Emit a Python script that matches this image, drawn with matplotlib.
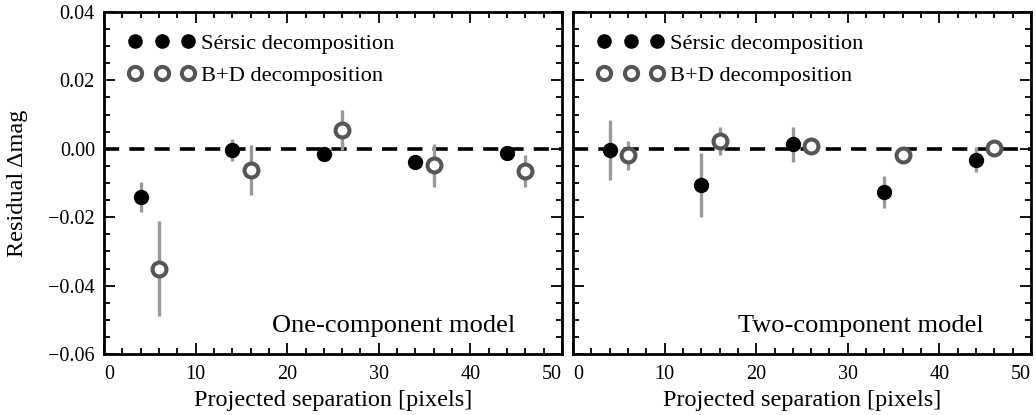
import matplotlib
matplotlib.use("Agg")
from matplotlib import pyplot as plt
from matplotlib.ticker import MultipleLocator

plt.rcParams['font.family'] = ['Liberation Serif', 'DejaVu Serif']
plt.rcParams['mathtext.fontset'] = 'stix'

# separations (pixels)
sep_sersic = [4, 14, 24, 34, 44]
sep_bd = [6, 16, 26, 36, 46]

# one-component model
one_sersic = [-0.0141, -0.0004, -0.0014, -0.0039, -0.0011]
one_sersic_err = [0.0044, 0.0032, 0.0012, 0.0010, 0.0010]
one_bd = [-0.0350, -0.0063, 0.0054, -0.0048, -0.0065]
one_bd_err = [0.0138, 0.0073, 0.0058, 0.0063, 0.0046]

# two-component model
two_sersic = [-0.0004, -0.0105, 0.0013, -0.0127, -0.0032]
two_sersic_err = [0.0088, 0.0093, 0.0051, 0.0047, 0.0037]
two_bd = [-0.0019, 0.0023, 0.0008, -0.0019, 0.0001]
two_bd_err = [0.0043, 0.0042, 0.0010, 0.0010, 0.0010]

xticks = [0, 10, 20, 30, 40, 50]

panels = [
    ("One-component model", one_sersic, one_sersic_err, one_bd, one_bd_err),
    ("Two-component model", two_sersic, two_sersic_err, two_bd, two_bd_err),
]

fig = plt.figure(figsize=(10.36, 4.15), dpi=100)
ax1 = fig.add_axes([104 / 1036, 61 / 415, 458 / 1036, 342 / 415])
ax2 = fig.add_axes([573 / 1036, 61 / 415, 458 / 1036, 342 / 415])

for ax, (title, ys, ys_err, yb, yb_err) in zip([ax1, ax2], panels):
    ax.axhline(0, color='black', lw=2.6, ls=(0, (4.2, 2.8)), zorder=1)
    ax.errorbar(sep_sersic, ys, yerr=ys_err, fmt='none', ecolor='#9a9a9a',
                elinewidth=2.4, capsize=0, zorder=2)
    ax.errorbar(sep_bd, yb, yerr=yb_err, fmt='none', ecolor='#9a9a9a',
                elinewidth=2.4, capsize=0, zorder=2)
    ax.plot(sep_sersic, ys, 'o', color='black', ms=10, ls='none', zorder=3,
            label='Sérsic decomposition')
    ax.plot(sep_bd, yb, 'o', mfc='white', mec='#555555', mew=2.9, ms=10,
            ls='none', zorder=3, label='B+D decomposition')

    ax.set_xlim(0, 50)
    ax.set_ylim(-0.06, 0.04)
    ax.set_xticks(xticks)
    ax.xaxis.set_minor_locator(MultipleLocator(2))
    ax.yaxis.set_major_locator(MultipleLocator(0.02))
    ax.yaxis.set_minor_locator(MultipleLocator(0.005))
    ax.tick_params(which='both', direction='in', top=True, right=True,
                   labelsize=14.5, width=1.3)
    ax.tick_params(which='major', length=8)
    ax.tick_params(which='minor', length=4)
    ax.tick_params(axis='x', pad=8)
    ax.tick_params(axis='y', pad=6.5)
    for s in ax.spines.values():
        s.set_linewidth(2)
    ax.set_xlabel('Projected separation [pixels]', fontsize=17.5)
    labels = ax.get_xticklabels()
    labels[0].set_ha('left')
    labels[-1].set_ha('right')

    ax.legend(loc='upper left', bbox_to_anchor=(0.034, 0.965), borderaxespad=0,
              numpoints=3, frameon=False, fontsize=16.2, handlelength=2.95,
              handletextpad=0.28, labelspacing=0.5, markerscale=0.95)
    ax.text(0.897, 0.05, title, transform=ax.transAxes, ha='right',
            va='bottom', fontsize=19)

ax1.yaxis.set_major_formatter(plt.FuncFormatter(
    lambda v, p: f"{v:.2f}".replace('-', '\u2212')))
ax1.set_ylabel('Residual Δmag', fontsize=17.5)
ax1.yaxis.set_label_coords(-0.165, 0.5)
ax2.tick_params(labelleft=False)

fig.savefig('out.png', dpi=100)
